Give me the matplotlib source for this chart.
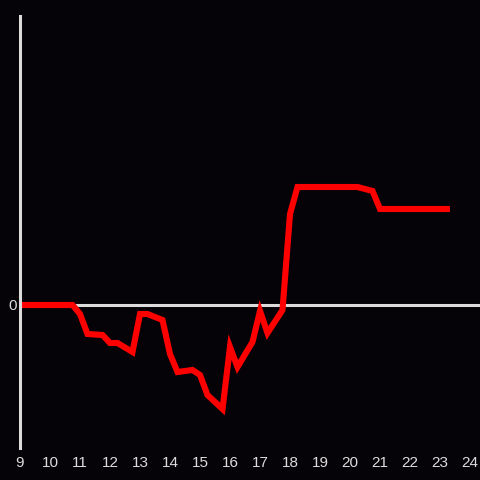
import matplotlib
matplotlib.use('Agg')
import matplotlib.pyplot as plt

# Hour of day and value (arbitrary units, 0 = baseline)
hours = [9.0, 10.75, 11.0, 11.25, 11.75, 12.0, 12.25, 12.75, 13.0, 13.25, 13.75,
         14.0, 14.25, 14.75, 15.0, 15.25, 15.75, 16.0, 16.25, 16.75, 17.0,
         17.25, 17.75, 18.0, 18.25, 20.25, 20.75, 21.0, 23.33]
values = [0, 0, -9, -29, -30, -38, -38, -47, -9, -9, -15,
          -49, -67, -65, -70, -90, -104, -42, -62, -37, -6,
          -28, -5, 91, 118, 118, 114, 96, 96]
xticks = list(range(9, 25))

bg = '#050307'
grey = '#dcdcdc'

plt.rcParams['font.family'] = ['Liberation Sans', 'DejaVu Sans']

fig = plt.figure(figsize=(4.8, 4.8), dpi=100, facecolor=bg)
ax = fig.add_axes([20 / 480, 32 / 480, 460 / 480, 432 / 480], facecolor=bg)

ax.axhline(0, color=grey, lw=2.2, zorder=1)
ax.plot(hours, values, color='#ff0000', lw=4.4, solid_joinstyle='miter',
        solid_capstyle='butt', zorder=2)

ax.set_xlim(9, 24.333)
ax.set_ylim(-143, 289)
ax.set_xticks(xticks)
ax.set_xticklabels([str(t) for t in xticks])
ax.set_yticks([0])
ax.set_yticklabels(['0'])
ax.tick_params(length=0, colors=grey, labelsize=11)
ax.tick_params(axis='x', pad=6)
ax.tick_params(axis='y', pad=2)

for s in ['top', 'right', 'bottom']:
    ax.spines[s].set_visible(False)
ax.spines['left'].set_color(grey)
ax.spines['left'].set_linewidth(2.2)

fig.savefig('out.png', dpi=100, facecolor=bg)
